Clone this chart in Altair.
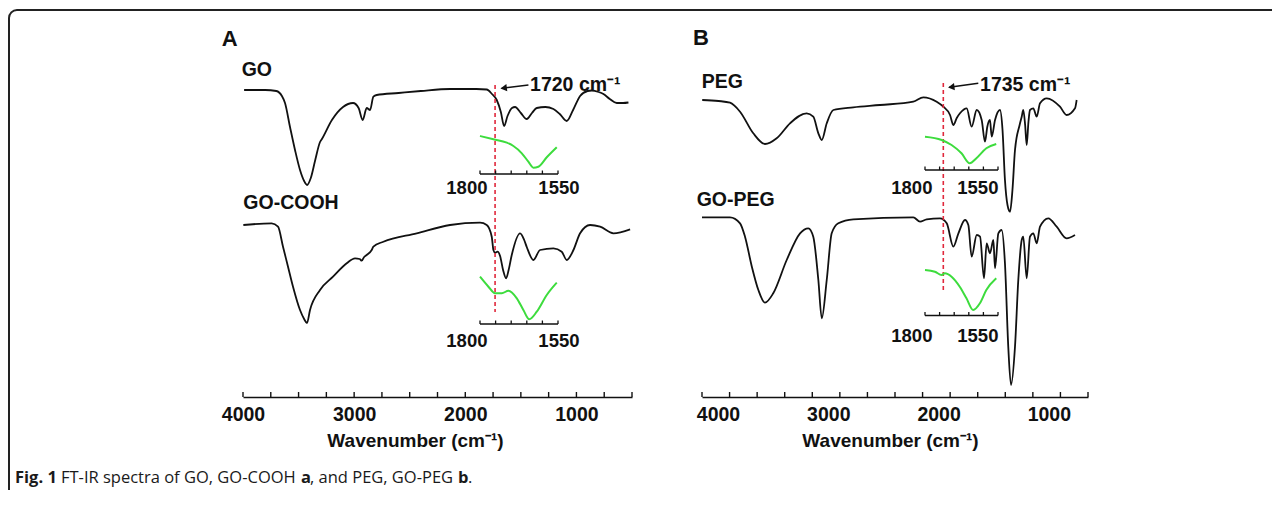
import altair as alt
import pandas as pd

FONT = "Liberation Sans"
CAP_FONT = "Open Sans"
INK = "#111111"
GREEN = "#3ddc3d"
RED = "#e0283c"

# ---------------- Panel A : GO and GO-COOH (wavenumber cm-1, transmittance a.u.) ----------------
go_wn = [3990, 3800, 3700, 3650, 3622, 3577, 3532, 3487, 3450, 3424, 3390, 3350, 3307, 3290, 3200,
         3100, 3010, 2960, 2923, 2887, 2857, 2827, 2797, 2600, 2400, 2137, 1900, 1807, 1760, 1717,
         1680, 1651, 1620, 1580, 1552, 1500, 1447, 1400, 1357, 1280, 1207, 1150, 1087, 1030, 967,
         900, 862, 800, 757, 700, 637, 580, 532]
go_t = [307, 307, 306, 301, 294, 270, 247, 227, 216, 212, 219, 237, 255, 258, 277,
        290, 294, 289, 277, 289, 287, 300.3, 302, 304, 306, 308, 308, 307.5, 303, 297,
        285, 271, 281, 289, 290, 284, 278, 284, 289, 290, 288, 283, 276, 287, 301,
        306, 306.5, 305, 303, 298, 294, 294, 294.5]

gocooh_wn = [3997, 3742, 3685, 3640, 3595, 3550, 3487, 3450, 3424, 3397, 3307, 3190, 3067, 2992,
             2950, 2932, 2910, 2887, 2842, 2827, 2737, 2437, 2137, 1867, 1807, 1762, 1747, 1732,
             1710, 1687, 1660, 1633, 1610, 1582, 1507, 1470, 1447, 1387, 1327, 1207, 1132, 1087,
             1027, 967, 877, 787, 667, 517]
gocooh_t = [172, 173.7, 170.3, 150.3, 130.3, 110.3, 87, 78, 74, 87, 107, 120.3, 133.7, 138.7,
            138, 136.3, 140, 142, 147, 150.3, 155.3, 163.7, 172, 174.3, 172, 160.3, 147, 144.3,
            145.3, 141, 127, 118.7, 127, 142, 163.7, 157, 150, 137, 147, 148.7, 145.3, 137,
            147, 163.7, 172, 170.3, 163.7, 167.7]

# insets (1800-1550 cm-1)
go_in_wn = [1800, 1757, 1714, 1693, 1666, 1645, 1629, 1613, 1586, 1554]
go_in_t = [261, 257.7, 254.3, 251, 243.7, 235.3, 229.3, 230.3, 239.7, 249.7]
gocooh_in_wn = [1800, 1773, 1752, 1730, 1709, 1682, 1661, 1642, 1618, 1586, 1554]
gocooh_in_t = [120.3, 110.3, 103.7, 103.7, 106.3, 98.7, 87, 77.7, 85.3, 102, 114.3]

# ---------------- Panel B : PEG and GO-PEG ----------------
peg_wn = [3998, 3850, 3746, 3655, 3535, 3429, 3323, 3202, 3051, 2991, 2945, 2914, 2869, 2809,
          2628, 2386, 2084, 1993, 1872, 1812, 1751, 1721, 1690, 1661, 1600, 1555, 1509, 1464,
          1434, 1413, 1389, 1373, 1343, 1298, 1275, 1253, 1230, 1207, 1185, 1162, 1120, 1101,
          1087, 1070, 1056, 1040, 1026, 996, 965, 935, 874, 754, 694, 618, 603]
peg_t = [297, 296, 294.3, 285.3, 263.7, 253, 258.7, 273.7, 283.7, 280.3, 263.7, 257, 273.7, 287,
         289.7, 292, 295.3, 299.7, 295.3, 290.3, 282, 272, 279, 283.7, 288.7, 270.3, 287, 277,
         255.3, 270.3, 277, 260.3, 277, 287, 267, 217, 192, 185.3, 207, 247, 272, 280.3,
         287, 272, 252, 275, 287, 288.7, 280.3, 293.7, 298.7, 290.3, 282, 288.7, 297]

gopeg_wn = [4000, 3746, 3655, 3610, 3548, 3489, 3429, 3354, 3232, 3111, 3036, 2991, 2945, 2914,
            2869, 2824, 2764, 2628, 2084, 2023, 1963, 1842, 1781, 1721, 1675, 1615, 1585, 1555,
            1509, 1479, 1443, 1419, 1389, 1358, 1343, 1313, 1283, 1253, 1223, 1198, 1162, 1132,
            1101, 1087, 1056, 1026, 996, 965, 935, 860, 784, 694, 618]
gopeg_t = [179.7, 179.7, 173.7, 160.3, 130.3, 107, 94.3, 103.7, 137, 163.7, 168.7, 160.3, 117, 78.7,
           117, 163.7, 173.7, 177.7, 179.7, 175.3, 177.7, 178.7, 173.7, 150.3, 163.7, 177, 172, 140.3,
           162, 160.3, 118.7, 153.7, 143.7, 157, 128.7, 163.7, 167, 133.7, 50.3, 12, 50.3, 117,
           157, 160.3, 118.7, 160.3, 163.7, 153.7, 170.3, 178.7, 170.3, 158.7, 162]

peg_in_wn = [1800, 1743, 1709, 1675, 1647, 1624, 1590, 1556]
peg_in_t = [260.3, 257, 252, 243.7, 233.7, 238.7, 248.7, 253]
gopeg_in_wn = [1800, 1766, 1743, 1732, 1709, 1681, 1658, 1635, 1612, 1590, 1556]
gopeg_in_t = [127, 125.3, 122, 123.7, 120.3, 110.3, 98.7, 87, 93.7, 107, 118.7]

# axis ticks / labels
main_ticks = [4000, 3750, 3500, 3250, 3000, 2750, 2500, 2250, 2000, 1750, 1500, 1250, 1000, 750, 500]
main_labels = [4000, 3000, 2000, 1000]
inset_ticks = [1800, 1750, 1700, 1650, 1600, 1550]

H = 367
NOVIEW = alt.ViewBackground(stroke="transparent", strokeWidth=0)


def spectra_df(series, xname):
    rows = []
    for name, wn, t in series:
        for i, (w, v) in enumerate(zip(wn, t)):
            rows.append({"s": name, xname: w, "au": v, "i": i})
    return pd.DataFrame(rows)


def panel(cfg, width, extra=None):
    xs = alt.Scale(domain=[4000, 500], nice=False, zero=False)
    ys = alt.Scale(domain=[0, H], nice=False, zero=False)
    xin = alt.Scale(domain=[1800, 1550], range=cfg["inset_range"], nice=False, zero=False)
    axis = alt.Axis(values=main_labels, format="d", grid=False, ticks=False, tickSize=0,
                    domainColor=INK, domainWidth=1.6, labelFont=FONT, labelFontWeight="bold",
                    labelFontSize=19.5, labelColor=INK, labelPadding=17, labelBaseline="middle",
                    labelFlush=False, labelOverlap=False, labelOffset=cfg["label_offset"],
                    title="Wavenumber (cm\u207b\u00b9)", titleFont=FONT, titleFontWeight="bold",
                    titleFontSize=19, titleColor=INK, titleX=cfg["title_x"], titleY=43,
                    titleAlign="center", titleBaseline="middle", titleAnchor="start")
    X = lambda: alt.X("wn:Q", scale=xs, axis=axis)
    Y = lambda f="au:Q": alt.Y(f, scale=ys, axis=None)

    spec = spectra_df(cfg["series"], "wn")
    lines = alt.Chart(spec).mark_line(interpolate="monotone", color=INK, strokeWidth=1.8).encode(
        x=X(), y=Y(), detail="s:N", order="i:Q")

    red = alt.Chart(pd.DataFrame({"wn": [cfg["red"][0]], "au": [cfg["red"][1]], "au2": [cfg["red"][2]]})
                    ).mark_rule(color=RED, strokeDash=[4, 3], strokeWidth=1.6).encode(
        x=X(), y=Y(), y2="au2:Q")

    ticks = alt.Chart(pd.DataFrame({"wn": main_ticks, "au": [0] * len(main_ticks),
                                    "au2": [5] * len(main_ticks)})).mark_rule(
        color=INK, strokeWidth=1.4).encode(x=X(), y=Y(), y2="au2:Q")

    arr = cfg["arrow"]
    arrow = alt.Chart(pd.DataFrame({"wn": [arr[0], arr[2]], "au": [arr[1], arr[3]]})).mark_line(
        color=INK, strokeWidth=1.6).encode(x=X(), y=Y())
    head = alt.Chart(pd.DataFrame({"wn": [arr[4]], "au": [arr[5]]})).mark_point(
        shape="triangle-left", filled=True, color=INK, size=55, angle=353, opacity=1).encode(x=X(), y=Y())

    texts = pd.DataFrame(cfg["texts"], columns=["wn", "au", "t"])
    labels = alt.Chart(texts).mark_text(font=FONT, fontWeight="bold", fontSize=19.5, color=INK,
                                        align="left", baseline="middle").encode(x=X(), y=Y(), text="t:N")
    letter = alt.Chart(pd.DataFrame([cfg["letter"]], columns=["wn", "au", "t"])).mark_text(
        font=FONT, fontWeight="bold", fontSize=22, color=INK, align="left", baseline="middle").encode(
        x=X(), y=Y(), text="t:N")

    main_layers = [lines, red, ticks, arrow, head, labels, letter]
    if extra:
        main_layers += extra
    main = alt.layer(*main_layers)

    # inset layer with its own x scale
    XI = lambda: alt.X("iw:Q", scale=xin, axis=None)
    ins = spectra_df(cfg["insets"], "iw")
    green = alt.Chart(ins).mark_line(interpolate="monotone", color=GREEN, strokeWidth=2).encode(
        x=XI(), y=Y(), detail="s:N", order="i:Q")
    ax_rows = [{"iw": 1800, "iw2": 1550, "au": a} for a in cfg["inset_axes"]]
    iaxis = alt.Chart(pd.DataFrame(ax_rows)).mark_rule(color=INK, strokeWidth=1.5).encode(
        x=XI(), x2="iw2:Q", y=Y())
    t_rows = [{"iw": t, "au": a, "au2": a + 3.5} for a in cfg["inset_axes"] for t in inset_ticks]
    iticks = alt.Chart(pd.DataFrame(t_rows)).mark_rule(color=INK, strokeWidth=1.3).encode(
        x=XI(), y=Y(), y2="au2:Q")
    ilab = alt.Chart(pd.DataFrame(cfg["inset_labels"], columns=["iw", "au", "t"])).mark_text(
        font=FONT, fontWeight="bold", fontSize=18.5, color=INK, align="center", baseline="middle").encode(
        x=XI(), y=Y(), text="t:N")
    inset = alt.layer(green, iaxis, iticks, ilab)

    return alt.layer(main, inset).resolve_scale(x="independent").properties(
        width=width, height=H, view=NOVIEW)


one = pd.DataFrame({"k": [0]})
frame = [
    alt.Chart(one).mark_rule(color="#222", strokeWidth=2).encode(
        x=alt.value(-226), x2=alt.value(1029), y=alt.value(-20)),
    alt.Chart(one).mark_rule(color="#222", strokeWidth=2).encode(
        x=alt.value(-234), y=alt.value(-12), y2=alt.value(460)),
    alt.Chart(one).mark_arc(radius=9, radius2=7, theta=4.712, theta2=6.2832, color="#222").encode(
        x=alt.value(-226), y=alt.value(-12)),
]
cap_pieces = [("Fig. 1", -228, "bold"), ("FT-IR spectra of GO, GO-COOH", -182, "normal"),
              ("a", 58, "bold"), (", and PEG, GO-PEG", 67, "normal"), ("b", 215, "bold"),
              (".", 225, "normal")]
caption = [alt.Chart(one).mark_text(text=t, font=CAP_FONT, fontSize=16.5, fontWeight=w, color="#1a1a1a",
                                    align="left", baseline="middle").encode(
    x=alt.value(x), y=alt.value(448)) for t, x, w in cap_pieces]

cfgA = dict(
    series=[("GO", go_wn, go_t), ("GO-COOH", gocooh_wn, gocooh_t)],
    insets=[("GO", go_in_wn, go_in_t), ("GO-COOH", gocooh_in_wn, gocooh_in_t)],
    inset_range=[237, 315], inset_axes=[223, 73],
    inset_labels=[(1842, 209, "1800"), (1547, 209, "1550"), (1842, 56, "1800"), (1547, 56, "1550")],
    red=(1732, 312, 85), arrow=(1432, 312, 1672, 308.7, 1655, 309),
    texts=[(4012, 327, "GO"), (3997, 194, "GO-COOH"), (1417, 312, "1720 cm\u207b\u00b9")],
    letter=(4192, 358, "A"), label_offset=0, title_x=172)

cfgB = dict(
    series=[("PEG", peg_wn, peg_t), ("GO-PEG", gopeg_wn, gopeg_t)],
    insets=[("PEG", peg_in_wn, peg_in_t), ("GO-PEG", gopeg_in_wn, gopeg_in_t)],
    inset_range=[223, 296], inset_axes=[227, 81.5],
    inset_labels=[(1845, 209, "1800"), (1619, 209, "1550"), (1845, 61, "1800"), (1619, 61, "1550")],
    red=(1812, 314, 107), arrow=(1495, 313.7, 1758, 309.7, 1740, 310),
    texts=[(4003, 315, "PEG"), (4048, 197, "GO-PEG"), (1479, 312, "1735 cm\u207b\u00b9")],
    letter=(4082, 359, "B"), label_offset=16, title_x=188)

panelA = panel(cfgA, 389, extra=frame + caption)
panelB = panel(cfgB, 386)

chart = alt.hconcat(panelA, panelB, spacing=70, bounds="flush").properties(
    padding={"left": 0, "top": 1, "right": 0, "bottom": 0}
).configure(background="white").configure_view(strokeWidth=0, stroke="transparent")

chart.save("out.html", embed_options={"renderer": "svg", "actions": False})
